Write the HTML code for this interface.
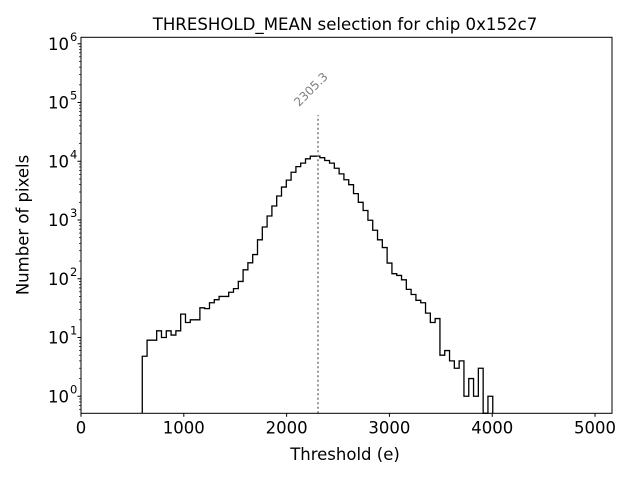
<!DOCTYPE html>
<html><head><meta charset="utf-8"><style>
body{margin:0;background:#fff}
svg{display:block;font-family:"DejaVu Sans","Liberation Sans",sans-serif}
</style></head><body>
<svg id="chart" width="640" height="480" xmlns="http://www.w3.org/2000/svg">
<rect width="640" height="480" fill="#fff"/>
<text x="345" y="30" font-size="16.6" text-anchor="middle">THRESHOLD_MEAN selection for chip 0x152c7</text>
<text x="345" y="460" font-size="16.5" text-anchor="middle">Threshold (e)</text>
<text x="28.5" y="225" font-size="16.5" text-anchor="middle" transform="rotate(-90 28.5 225)">Number of pixels</text>
<g id="xticks"></g><g id="yticks"></g>
<path id="hist" fill="none" stroke="#000" stroke-width="1.3"/>
<line id="vline" stroke="#808080" stroke-width="1.6" stroke-dasharray="2,2.5"/>
<text id="vlabel" font-size="12" fill="#808080">2305.3</text>
<rect x="81" y="37.3" width="531" height="376" fill="none" stroke="#000" stroke-width="1"/>
</svg>
<script>
const binStart = 596;
const binWidth = 46.7;
const counts = [4.8,9,9,13,10,13,11,13,25,18,20,20,32,31,39,44,50,50,59,68,90,142,187,258,460,760,1170,1730,2560,3640,4780,6500,8100,9300,11000,12200,12200,11500,10300,9300,7600,6100,4850,3990,2810,2000,1450,990,670,460,340,185,122,114,96,66,54,43,39,26,18,21,5,6,4,3,4,1,2,1,3,0,1];
const xTicks = [0,1000,2000,3000,4000,5000];
const yTickExps = [0,1,2,3,4,5,6];
const meanValue = 2305.3;
const meanLabel = "2305.3";

const X0=81, X1=612, Y0=413.3, Y1=37.3;
const xMin=0, xMax=5165, lMin=-0.29, lMax=6.11;
const sx = v => X0 + (v - xMin) / (xMax - xMin) * (X1 - X0);
const sy = v => v <= 0 ? Y0 + 5 : Y0 - (Math.log10(v) - lMin) / (lMax - lMin) * (Y0 - Y1);
const NS = "http://www.w3.org/2000/svg";
function mk(tag, attrs, parent){const e=document.createElementNS(NS,tag);for(const k in attrs)e.setAttribute(k,attrs[k]);parent.appendChild(e);return e;}

let d = `M${sx(binStart)},${Y0}`;
counts.forEach((c,i)=>{
  const y = Math.min(sy(c), Y0);
  d += ` L${sx(binStart+i*binWidth)},${y} L${sx(binStart+(i+1)*binWidth)},${y}`;
});
d += ` L${sx(binStart+counts.length*binWidth)},${Y0}`;
document.getElementById('hist').setAttribute('d', d);

const maxC = Math.max(...counts);
const vl = document.getElementById('vline');
vl.setAttribute('x1', sx(meanValue)); vl.setAttribute('x2', sx(meanValue));
vl.setAttribute('y1', Y0); vl.setAttribute('y2', sy(maxC*5));
const lab = document.getElementById('vlabel');
lab.textContent = meanLabel;
const lx = sx(meanValue)-19, ly = sy(maxC*5)-8;
lab.setAttribute('x', lx); lab.setAttribute('y', ly);
lab.setAttribute('transform', `rotate(-45 ${lx} ${ly})`);

const xg = document.getElementById('xticks');
xTicks.forEach(t=>{
  const l = mk('line',{x1:sx(t),x2:sx(t),y1:Y0,y2:Y0+3.5,stroke:'#000','stroke-width':1},xg);
  
  
  const tx = mk('text',{x:sx(t),y:Y0+20,'font-size':16.5,'text-anchor':'middle'},xg);
  tx.textContent = t;
  
  
});

const yg = document.getElementById('yticks');
yTickExps.forEach(e=>{
  const y = sy(Math.pow(10,e));
  const l = mk('line',{x1:X0-3.5,x2:X0,y1:y,y2:y,stroke:'#000','stroke-width':1},yg);
  
  
  const tx = mk('text',{x:X0-12,y:y+6,'font-size':16.5,'text-anchor':'end'},yg);
  tx.textContent = '10';
  
  
  const sp = mk('text',{x:X0-11,y:y-3,'font-size':11.5,'text-anchor':'start'},yg);
  sp.textContent = e;
  
  
});
for(let e=-1;e<=6;e++){
  for(let m=2;m<=9;m++){
    const v=m*Math.pow(10,e), y=sy(v);
    if(y>Y0||y<Y1) continue;
    const l = mk('line',{x1:X0-2,x2:X0,y1:y,y2:y,stroke:'#000','stroke-width':0.7},yg);
    
    
  }
}
</script>
</body></html>
